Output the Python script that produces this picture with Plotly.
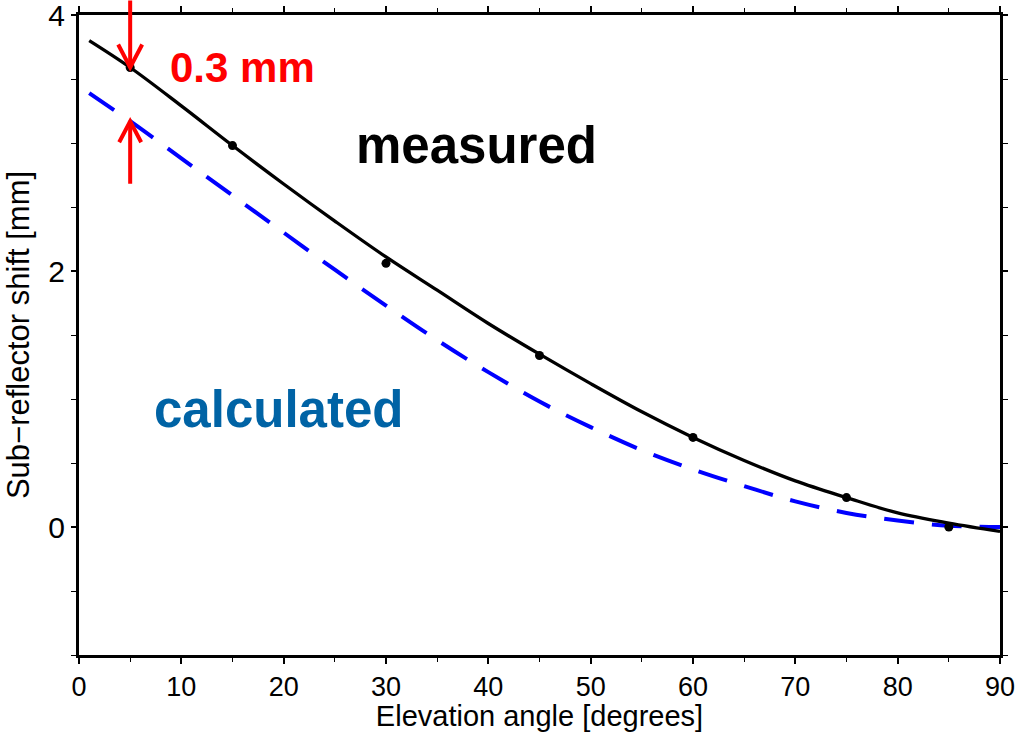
import plotly.graph_objects as go

# Sub-reflector shift versus elevation angle
meas_elev = [5, 15, 30, 45, 60, 75, 85]
meas_shift = [3.59, 2.98, 2.06, 1.34, 0.70, 0.23, 0.00]

fit_elev = [1, 5, 10, 15, 20, 25, 30, 35, 40, 45, 50, 55, 60, 65, 70, 75, 80, 85, 90]
fit_shift = [3.80, 3.59, 3.29, 2.98, 2.68, 2.39, 2.11, 1.85, 1.59, 1.35, 1.12, 0.90,
             0.70, 0.52, 0.36, 0.23, 0.11, 0.03, -0.035]

calc_elev = [1, 5, 10, 15, 20, 25, 30, 35, 40, 45, 50, 55, 60, 65, 70, 75, 80, 85, 90]
calc_shift = [3.39, 3.17, 2.88, 2.59, 2.30, 2.01, 1.73, 1.46, 1.21, 0.98, 0.78, 0.60,
              0.45, 0.32, 0.20, 0.11, 0.05, 0.01, 0.0]

gap_elev = 5
gap_label = "0.3 mm"

FONT = "Liberation Sans, Arial, sans-serif"
RED = "#ff0000"

fig = go.Figure()

fig.add_trace(go.Scatter(
    x=calc_elev, y=calc_shift, mode="lines", line_shape="spline",
    line=dict(color="#0000ff", width=4, dash="30px,18px"),
    showlegend=False, hoverinfo="skip"))

fig.add_trace(go.Scatter(
    x=fit_elev, y=fit_shift, mode="lines", line_shape="spline",
    line=dict(color="black", width=3.3),
    showlegend=False, hoverinfo="skip"))

fig.add_trace(go.Scatter(
    x=meas_elev, y=meas_shift, mode="markers",
    marker=dict(color="black", size=9),
    showlegend=False))

tip_top = meas_shift[meas_elev.index(gap_elev)]
tip_bottom = calc_shift[calc_elev.index(gap_elev)]

# arrow stems (annotations so they may run past the plot frame)
for y_tip, ay in [(tip_top, -68), (tip_bottom, 63)]:
    fig.add_annotation(x=gap_elev, y=y_tip, xref="x", yref="y", text="",
                       showarrow=True, arrowhead=0, arrowwidth=4, arrowcolor=RED,
                       ax=0, ay=ay, standoff=0, borderpad=0)

# open V arrow heads, sized in pixels around the tips
fig.add_shape(type="path", xref="x", yref="y", xsizemode="pixel", ysizemode="pixel",
              xanchor=gap_elev, yanchor=tip_top, path="M-12,23 L0,0 L12,23",
              line=dict(color=RED, width=4))
fig.add_shape(type="path", xref="x", yref="y", xsizemode="pixel", ysizemode="pixel",
              xanchor=gap_elev, yanchor=tip_bottom, path="M-11,-21 L0,0 L11,-21",
              line=dict(color=RED, width=4))

fig.add_annotation(x=8.7, y=tip_top, xref="x", yref="y", text="<b>%s</b>" % gap_label,
                   showarrow=False, xanchor="left", yanchor="middle",
                   font=dict(family=FONT, size=42, color=RED))
fig.add_annotation(x=38.8, y=2.98, xref="x", yref="y", text="<b>measured</b>",
                   showarrow=False, xanchor="center", yanchor="middle",
                   font=dict(family=FONT, size=51, color="black"))
fig.add_annotation(x=19.5, y=0.92, xref="x", yref="y", text="<b>calculated</b>",
                   showarrow=False, xanchor="center", yanchor="middle",
                   font=dict(family=FONT, size=51, color="#0063a5"))

axis_common = dict(
    showline=True, linecolor="black", linewidth=3, mirror="ticks",
    ticks="outside", tickcolor="black", tickwidth=1.5,
    showgrid=False, zeroline=False, automargin=False,
    ticklabeloverflow="allow",
)

fig.update_xaxes(
    range=[0, 90], dtick=10, tick0=0, ticklen=6,
    tickfont=dict(family=FONT, size=27, color="black"),
    minor=dict(dtick=5, ticks="outside", ticklen=4, tickcolor="black", tickwidth=1.2),
    title=dict(text="Elevation angle [degrees]", standoff=7,
               font=dict(family=FONT, size=29, color="black")),
    **axis_common)
fig.update_yaxes(
    range=[-1, 4], dtick=2, tick0=0, ticklen=5,
    tickfont=dict(family=FONT, size=30, color="black"),
    minor=dict(dtick=0.5, ticks="outside", ticklen=5, tickcolor="black", tickwidth=1.2),
    title=dict(text="Sub\u2212reflector shift [mm]", standoff=10,
               font=dict(family=FONT, size=31, color="black")),
    **axis_common)

fig.update_layout(
    width=1033, height=732,
    margin=dict(l=79, r=33, t=15, b=77),
    paper_bgcolor="white", plot_bgcolor="white",
)

fig.write_html("out.html")
